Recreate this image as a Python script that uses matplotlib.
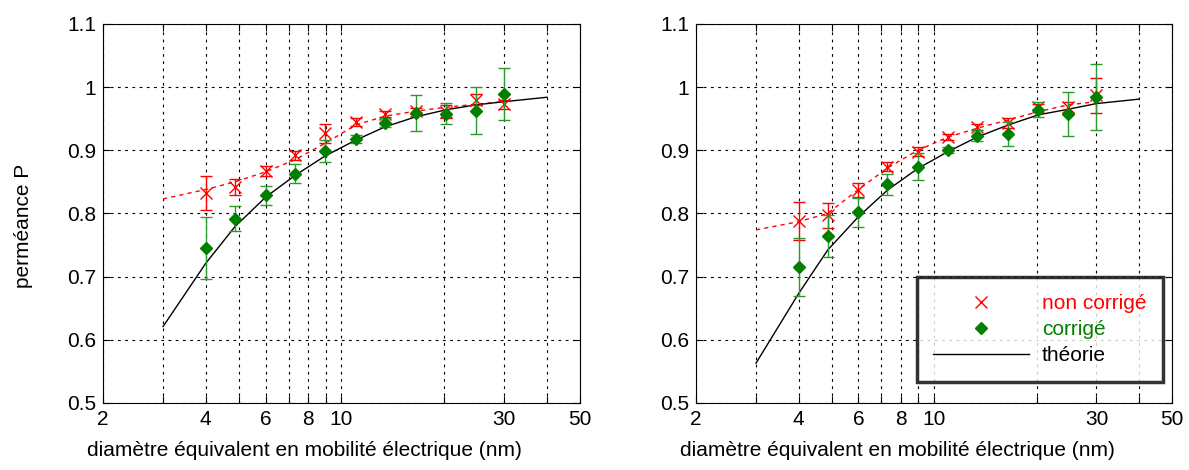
import matplotlib.pyplot as plt
from matplotlib.ticker import FixedLocator, FixedFormatter, NullLocator

plt.rcParams['font.family'] = ['Liberation Sans', 'DejaVu Sans']
plt.rcParams['font.size'] = 15

# mobility diameters (nm)
d = [4, 4.87, 6, 7.3, 8.95, 11, 13.4, 16.5, 20.2, 24.8, 30]

# left panel
nc1 = [0.833, 0.842, 0.867, 0.892, 0.927, 0.945, 0.958, 0.962, 0.961, 0.980, 0.973]
nc1_err = [0.027, 0.012, 0.008, 0.007, 0.015, 0.006, 0.005, 0.005, 0.010, 0.009, 0.007]
c1 = [0.746, 0.792, 0.829, 0.863, 0.899, 0.918, 0.944, 0.959, 0.958, 0.963, 0.989]
c1_err = [0.049, 0.020, 0.015, 0.015, 0.017, 0.007, 0.007, 0.029, 0.017, 0.037, 0.041]

# right panel
nc2 = [0.788, 0.797, 0.837, 0.874, 0.898, 0.921, 0.937, 0.943, 0.969, 0.968, 0.987]
nc2_err = [0.030, 0.020, 0.011, 0.007, 0.007, 0.005, 0.005, 0.008, 0.005, 0.009, 0.028]
c2 = [0.715, 0.764, 0.802, 0.846, 0.874, 0.901, 0.923, 0.926, 0.964, 0.958, 0.984]
c2_err = [0.046, 0.033, 0.023, 0.016, 0.021, 0.005, 0.009, 0.019, 0.012, 0.035, 0.052]

# fitted curve for uncorrected data (red dashed)
fit_x = [3, 4, 4.87, 6, 7.3, 8.95, 11, 13.4, 16.5, 20.2, 24.8, 30]
fit1 = [0.823, 0.838, 0.850, 0.866, 0.885, 0.911, 0.940, 0.954, 0.962, 0.968, 0.973, 0.977]
fit2 = [0.774, 0.787, 0.800, 0.838, 0.872, 0.900, 0.921, 0.935, 0.948, 0.961, 0.972, 0.977]

# theory (black)
th_x = [3, 4, 4.87, 6, 7.3, 8.95, 11, 13.4, 16.5, 20.2, 24.8, 30, 40]
th1 = [0.621, 0.721, 0.779, 0.826, 0.860, 0.891, 0.916, 0.937, 0.953, 0.964, 0.972, 0.977, 0.984]
th2 = [0.563, 0.673, 0.742, 0.795, 0.837, 0.871, 0.898, 0.921, 0.940, 0.956, 0.965, 0.974, 0.981]

xticks = [2, 3, 4, 5, 6, 7, 8, 9, 10, 20, 30, 40, 50]
xlabels = ['2', '', '4', '', '6', '', '8', '', '10', '', '30', '', '50']
yticks = [0.5, 0.6, 0.7, 0.8, 0.9, 1.0, 1.1]
ylabels = ['0.5', '0.6', '0.7', '0.8', '0.9', '1', '1.1']

red = '#ff0000'
green = '#007f00'

fig = plt.figure(figsize=(11.89, 4.70), dpi=100)
ax1 = fig.add_axes([0.0866, 0.1426, 0.4012, 0.8064])
ax2 = fig.add_axes([0.5854, 0.1426, 0.4003, 0.8064])

panels = [(ax1, nc1, nc1_err, c1, c1_err, fit1, th1),
          (ax2, nc2, nc2_err, c2, c2_err, fit2, th2)]

for ax, nc, nce, c, ce, fit, th in panels:
    ax.set_xscale('log')
    ax.set_xlim(2, 50)
    ax.set_ylim(0.5, 1.1)
    ax.xaxis.set_major_locator(FixedLocator(xticks))
    ax.xaxis.set_major_formatter(FixedFormatter(xlabels))
    ax.xaxis.set_minor_locator(NullLocator())
    ax.set_yticks(yticks)
    ax.set_yticklabels(ylabels)
    ax.tick_params(direction='in', top=True, right=True, length=5, width=0.8,
                   labelsize=15, pad=5)
    ax.grid(True, color='black', linestyle=(0, (2.5, 4)), linewidth=0.8)
    for s in ax.spines.values():
        s.set_linewidth(0.8)

    ax.plot(fit_x, fit, color=red, linestyle=(0, (3, 3)), linewidth=1)
    ax.plot(th_x, th, color='black', linewidth=1, label='théorie')
    ax.errorbar(d, nc, yerr=nce, fmt='x', color=red, markersize=9,
                markeredgewidth=1, elinewidth=1, capsize=4.5, capthick=1,
                label='non corrigé', zorder=3)
    ax.errorbar(d, c, yerr=ce, fmt='D', color=green, markersize=6.5,
                elinewidth=1, capsize=4.5, capthick=1, ecolor='#2e9a2e',
                label='corrigé', zorder=4)
    ax.set_xlabel('diamètre équivalent en mobilité électrique (nm)', fontsize=15)
    ax.xaxis.set_label_coords(0.423, -0.10)

ax1.set_ylabel('perméance P', fontsize=15)
ax1.yaxis.set_label_coords(-0.147, 0.467)

h, l = ax2.get_legend_handles_labels()
order = [1, 2, 0]
handles = [h[i][0] if hasattr(h[i], '__getitem__') else h[i] for i in order]
leg = ax2.legend(handles, [l[i] for i in order], loc='lower right',
                 bbox_to_anchor=(0.981, 0.055), fontsize=15, frameon=True,
                 fancybox=False, handlelength=4.6, borderpad=0.8,
                 labelspacing=0.35, handletextpad=0.6, borderaxespad=0)
leg.get_frame().set_edgecolor('black')
leg.get_frame().set_linewidth(2.5)
for t, col in zip(leg.get_texts(), [red, green, 'black']):
    t.set_color(col)

fig.savefig('out.png', dpi=100)
